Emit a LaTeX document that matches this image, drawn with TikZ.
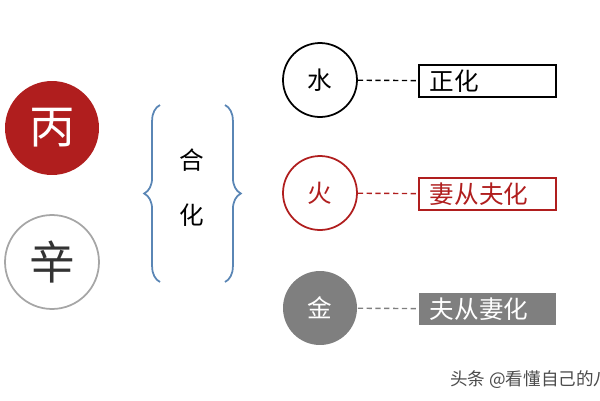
\documentclass[tikz,border=0pt]{standalone}
\usepackage{fontspec}
\setmainfont{Noto Sans CJK SC}
\usetikzlibrary{decorations.pathreplacing}
\definecolor{dred}{HTML}{B01E1E}
\definecolor{bblue}{HTML}{5A86B5}
\definecolor{gr}{HTML}{7F7F7F}
\begin{document}
\begin{tikzpicture}[x=0.02cm,y=-0.02cm,
  big/.style={circle,minimum size=1.88cm,inner sep=0pt,font=\fontsize{26}{26}\selectfont},
  sm/.style={circle,minimum size=1.48cm,inner sep=0pt,line width=1pt,font=\fontsize{14}{14}\selectfont},
  box/.style={rectangle,minimum width=2.74cm,minimum height=0.64cm,inner ysep=0pt,inner xsep=6pt,line width=1pt,anchor=west,text width=2.3cm,align=left,font=\fontsize{14}{14}\selectfont},
  dl/.style={dash pattern=on 3pt off 2pt,line width=0.8pt}]
\useasboundingbox (0,0) rectangle (600,400);
\node[big,fill=dred,text=white] (bing) at (52,128) {丙};
\node[big,draw=gray!70,line width=1pt,text=black!80] (xin) at (52,262) {辛};
\draw[bblue,line width=1pt,decorate,decoration={brace,amplitude=9pt,aspect=0.5}] (160,282) -- (160,105);
\draw[bblue,line width=1pt,decorate,decoration={brace,amplitude=9pt,aspect=0.5}] (225,105) -- (225,282);
\node[font=\fontsize{14}{14}\selectfont] (he) at (192,160) {合};
\node[font=\fontsize{14}{14}\selectfont] (hua) at (192,215) {化};
\node[sm,draw=black] (shui) at (320,80) {水};
\node[sm,draw=dred,text=dred] (huo) at (320,193) {火};
\node[sm,fill=gr,text=white] (jin) at (320,308) {金};
\node[box,draw=black] (b1) at (418,81) {正化};
\node[box,draw=dred,text=dred] (b2) at (418,194) {妻从夫化};
\node[box,fill=gr,text=white] (b3) at (418,309) {夫从妻化};
\draw[dl] (shui) -- (b1);
\draw[dl,dred] (huo) -- (b2);
\draw[dl,gr] (jin) -- (b3);
\node[anchor=west,text=black!70,font=\fontsize{10}{10}\selectfont] (wm) at (444,380) {头条 @看懂自己的八};
\end{tikzpicture}
\end{document}
